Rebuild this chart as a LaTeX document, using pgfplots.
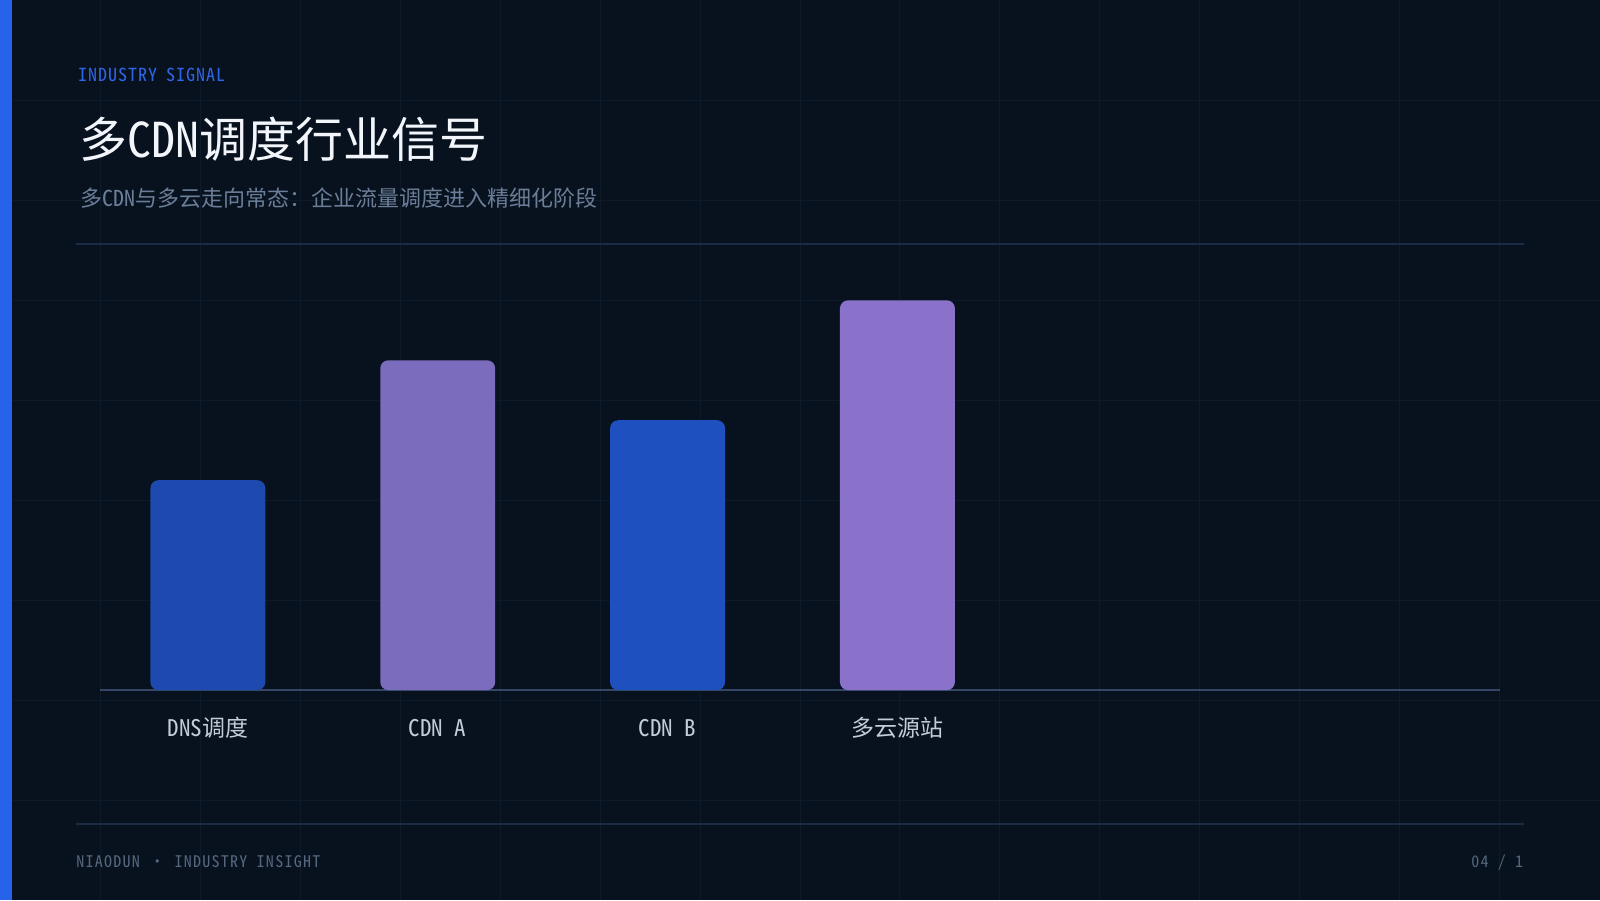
\documentclass[border=0pt]{standalone}
\usepackage{pgfplots}
\pgfplotsset{compat=1.18}
\usepackage{fontspec}
\setmainfont{Noto Sans Mono CJK SC}
\newfontfamily\kickerfont[LetterSpace=5]{Noto Sans Mono CJK SC}
\newfontfamily\footfont[LetterSpace=8]{Noto Sans Mono CJK SC}
\definecolor{bg}{HTML}{08111E}
\definecolor{gridc}{HTML}{0E1A29}
\definecolor{stripe}{HTML}{2563EB}
\definecolor{kicker}{HTML}{2F66E8}
\definecolor{titlec}{HTML}{F2F6FB}
\definecolor{subc}{HTML}{6B7E98}
\definecolor{rulec}{HTML}{1C2B45}
\definecolor{basec}{HTML}{344766}
\definecolor{barA}{HTML}{1E4AAF}
\definecolor{barB}{HTML}{7B6CBD}
\definecolor{barC}{HTML}{1F50BF}
\definecolor{barD}{HTML}{8A72CB}
\definecolor{tickc}{HTML}{C3CCD8}
\definecolor{footc}{HTML}{56677F}
\begin{document}
\begin{tikzpicture}
% background
\fill[bg] (0,0) rectangle (800pt,450pt);
\foreach \i in {1,...,15} \draw[gridc, line width=0.5pt] (\i*50pt,0) -- (\i*50pt,450pt);
\foreach \j in {1,...,8} \draw[gridc, line width=0.5pt] (0,450pt-\j*50pt) -- (800pt,450pt-\j*50pt);
\fill[stripe] (0,0) rectangle (6pt,450pt);
% header
\node[anchor=base west, inner sep=0, text=kicker, font=\kickerfont\fontsize{9pt}{11pt}\selectfont] at (39pt,409.25pt) {INDUSTRY SIGNAL};
\node[anchor=base west, inner sep=0, text=titlec, font=\fontsize{24pt}{28pt}\selectfont] at (39.5pt,371.25pt) {多CDN调度行业信号};
\node[anchor=base west, inner sep=0, text=subc, font=\fontsize{11pt}{13pt}\selectfont] at (39.75pt,347pt) {多CDN与多云走向常态：企业流量调度进入精细化阶段};
\draw[rulec, line width=1pt] (38pt,328pt) -- (762pt,328pt);
% footer
\draw[rulec, line width=1pt] (38pt,37.75pt) -- (762pt,37.75pt);
\node[anchor=base west, inner sep=0, text=footc, font=\footfont\fontsize{8pt}{10pt}\selectfont] at (37.75pt,16.25pt) {NIAODUN · INDUSTRY INSIGHT};
\node[anchor=base east, inner sep=0, text=footc, font=\footfont\fontsize{8pt}{10pt}\selectfont] at (762pt,16.25pt) {04 / 1};
% chart
\begin{axis}[
  at={(50pt,105pt)}, anchor=south west,
  scale only axis, width=700pt, height=210pt,
  xmin=-0.4674, xmax=5.6196, ymin=0, ymax=70,
  axis x line=bottom, axis y line=none,
  x axis line style={-, draw=basec, line width=1pt},
  xtick={0,1,2,3},
  xticklabels={DNS调度, CDN A, CDN B, 多云源站},
  major tick length=0pt,
  ytick=\empty,
  xticklabel style={anchor=base, yshift=-23pt, text=tickc, font=\fontsize{11.5pt}{14pt}\selectfont},
  clip=false,
]
\addplot[ybar, bar width=57.5pt, fill=barA, draw=none, rounded corners=4pt] coordinates {(0,35)};
\addplot[ybar, bar width=57.5pt, fill=barB, draw=none, rounded corners=4pt] coordinates {(1,55)};
\addplot[ybar, bar width=57.5pt, fill=barC, draw=none, rounded corners=4pt] coordinates {(2,45)};
\addplot[ybar, bar width=57.5pt, fill=barD, draw=none, rounded corners=4pt] coordinates {(3,65)};
\end{axis}
\end{tikzpicture}
\end{document}
